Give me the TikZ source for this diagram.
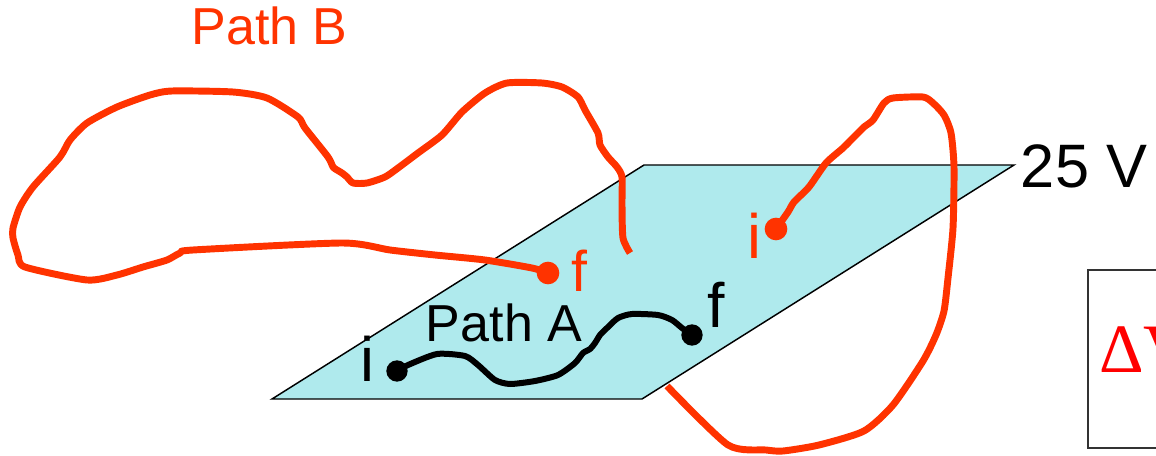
\documentclass[tikz,border=0pt]{standalone}
\usepackage{fontspec}
\setmainfont{Liberation Sans}
\newfontfamily\timesfont{Liberation Serif}
\definecolor{pb}{RGB}{255,51,0}
\definecolor{planec}{RGB}{175,234,237}
\definecolor{dvred}{RGB}{255,0,0}
\begin{document}
\begin{tikzpicture}[x=0.75pt,y=-0.75pt,
  redpath/.style={draw=pb, line width=5.2pt, line join=round, line cap=butt},
  blackpath/.style={draw=black, line width=4.5pt, line join=round},
  reddot/.style={circle, fill=pb, inner sep=0pt, minimum size=17pt},
  blackdot/.style={circle, fill=black, inner sep=0pt, minimum size=16pt},
  lbl/.style={inner sep=0pt, anchor=base},
  planestyle/.style={fill=planec, draw=black, line width=1.1pt, line join=miter}]
\useasboundingbox (0,0) rectangle (1156,456);
\clip (0,0) rectangle (1156,456);
% equipotential plane
\coordinate (p1) at (272,399);
\coordinate (p2) at (642,399);
\coordinate (p3) at (1014,165);
\coordinate (p4) at (644,165);
\path[planestyle] (p1) -- (p2) -- (p3) -- (p4) -- cycle;
% dots
\node[reddot] (Bf) at (548,273) {};
\node[reddot] (Bi) at (776,229) {};
\node[blackdot] (Ai) at (397,371) {};
\node[blackdot] (Af) at (692,335) {};
% Path B, part above the plane
\draw[redpath] plot[smooth, tension=0.4] coordinates {
(630,253) (623,238) (622,205) (622,177) (617,167) (608,157) (600,145) (598,133)
(585,110) (578,97) (562,87) (542,83) (507,83) (485,93) (462,112) (442,135)
(418,153) (398,168) (385,177) (367,183) (353,183) (347,177) (342,173) (337,170)
(333,167) (328,157) (305,128) (298,117) (267,98) (233,92) (172,91) (150,95)
(117,107) (87,123) (70,140) (60,157) (33,187) (20,207) (13,228) (13,238)
(18,255) (25,267) (87,280) (117,275) (143,267) (167,260) (180,253) (193,250)
(342,243) (390,250) (435,255) (485,260) (532,268) (Bf.center)};
% Path B, part below the plane
\draw[redpath] plot[smooth, tension=0.4] coordinates {
(667,386) (728,445) (766,450) (783,451) (819,445) (864,431) (893,405) (923,361)
(936,335) (944,311) (948,278) (953,228) (954,167) (951,133) (944,115) (933,103)
(923,97) (893,98) (884,103) (873,120) (864,127) (856,135) (843,148) (826,163)
(809,187) (794,202) (788,212) (Bi.center)};
% Path A
\draw[blackpath] plot[smooth, tension=0.4] coordinates {
(Ai.center) (408,365) (437,354) (465,356) (478,365) (495,380) (510,384) (535,381)
(558,375) (575,363) (583,353) (590,349) (595,343) (600,335) (607,328) (618,318)
(632,314) (658,315) (672,320) (682,328) (Af.center)};
% labels
\node[lbl, text=pb, font=\fontsize{39}{39}\selectfont] (lPB) at (269.5,45) {Path B};
\node[lbl, font=\fontsize{39}{39}\selectfont] (lPA) at (504,341) {Path A};
\node[lbl, font=\fontsize{46}{46}\selectfont] (lV) at (1084,187) {25 V};
\node[lbl, font=\fontsize{47}{47}\selectfont] (lAi) at (367,381) {i};
\node[lbl, font=\fontsize{47}{47}\selectfont] (lAf) at (716,327) {f};
\node[lbl, text=pb, font=\fontsize{43}{43}\selectfont] (lBf) at (579,291) {f};
\node[lbl, text=pb, font=\fontsize{47}{47}\selectfont] (lBi) at (754,258) {i};
% clipped box
\draw[draw=black!80, line width=1.1pt] (1088,270) rectangle (1200,448);
\node[inner sep=0pt, anchor=base west, text=dvred, font=\timesfont\fontsize{52}{52}\selectfont] (dv) at (1099,372) {ΔV};
\end{tikzpicture}
\end{document}
